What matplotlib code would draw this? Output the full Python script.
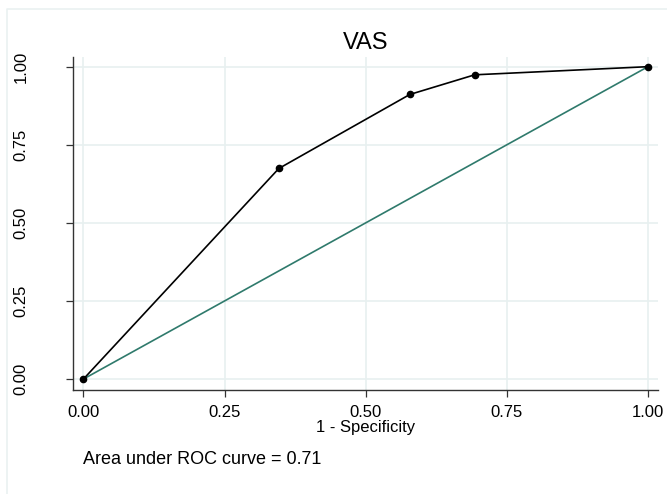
import matplotlib
matplotlib.use('Agg')
import matplotlib.pyplot as plt
from matplotlib.lines import Line2D

# ROC points
fpr = [0.0, 0.346, 0.578, 0.693, 1.0]
tpr = [0.0, 0.674, 0.911, 0.974, 1.0]
ref_line = [0.0, 1.0]
ticks = [0.0, 0.25, 0.50, 0.75, 1.0]
tick_labels = ['0.00', '0.25', '0.50', '0.75', '1.00']
auc_text = 'Area under ROC curve = 0.71'

plt.rcParams['font.family'] = ['Liberation Sans', 'DejaVu Sans']

W, H = 667.0, 494.0
fig = plt.figure(figsize=(6.67, 4.94), dpi=100)
# faint graph region border (only left and top show in the picture)
fig.lines.append(Line2D([7 / W, 7 / W, 1.0], [0.0, 1 - 9 / H, 1 - 9 / H],
                        transform=fig.transFigure, color='#eaf1f1', linewidth=1.2))

ax = fig.add_axes([73 / W, 1 - 390 / H, (658 - 73) / W, (390 - 57) / H])
ax.grid(True, color='#e8f0f0', linewidth=1.2)
ax.set_axisbelow(True)

ax.plot(ref_line, ref_line, color='#2f7a6c', linewidth=1.2)
ax.plot(fpr, tpr, color='black', linewidth=1.2, marker='o', markersize=4.5)

ax.set_xlim(-0.0186, 1.0177)
ax.set_ylim(-0.0352, 1.031)
ax.set_xticks(ticks)
ax.set_xticklabels(tick_labels)
ax.set_yticks(ticks)
ax.set_yticklabels(tick_labels, rotation=90, va='center')
ax.tick_params(axis='both', direction='out', length=5, width=0.9, labelsize=12,
               color='#333333')
ax.tick_params(axis='x', pad=6)
ax.tick_params(axis='y', pad=27)

for s in ['top', 'right']:
    ax.spines[s].set_visible(False)
for s in ['left', 'bottom']:
    ax.spines[s].set_color('#333333')
    ax.spines[s].set_linewidth(1.0)

ax.set_title('VAS', fontsize=17, pad=6)
ax.set_xlabel('1 - Specificity', fontsize=12, labelpad=0)

fig.text(83 / W, 1 - 459 / H, auc_text, fontsize=13, ha='left', va='center')

fig.savefig('out.png', dpi=100)
